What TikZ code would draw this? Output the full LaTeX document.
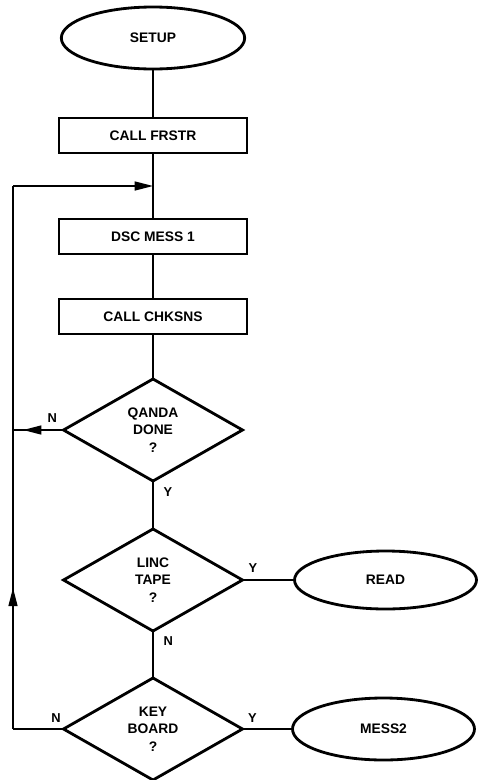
\documentclass[tikz,border=0pt]{standalone}
\usepackage{fontspec}
\setmainfont{Liberation Sans}
\usetikzlibrary{arrows.meta,positioning,calc,shapes.geometric,decorations.markings}

\begin{document}
\begin{tikzpicture}[
  font=\fontsize{11.8}{15}\selectfont\bfseries,
  terminal/.style={draw,ellipse,line width=2.4pt,outer sep=0pt,minimum width=5.5cm,minimum height=1.86cm,inner sep=0pt},
  process/.style={draw,line width=2.4pt,outer sep=0pt,minimum width=5.64cm,minimum height=1.05cm,inner sep=0pt},
  decision/.style={draw,diamond,aspect=1.75,line width=2.4pt,outer sep=0pt,minimum width=5.37cm,minimum height=3.06cm,inner sep=0pt,align=center},
  line/.style={line width=1.3pt},
  arrow/.style={line,-{Triangle[length=5.5mm,width=2.7mm]}},
  midarrow/.style={line,postaction={decorate},decoration={markings,mark=at position #1 with {\arrow{Triangle[length=5.5mm,width=2.7mm]}}}},
  lbl/.style={font=\fontsize{11}{12}\selectfont\bfseries}
]
\useasboundingbox (0,0) rectangle (14.49,-23.4);

% main column
\node[terminal] (setup) at (4.59,-1.14) {SETUP};
\node[process,below=1.47cm of setup] (frstr) {CALL FRSTR};
\node[process,below=1.98cm of frstr] (dsc) {DSC MESS 1};
\node[process,below=1.35cm of dsc] (chksns) {CALL CHKSNS};
\node[decision,below=1.35cm of chksns] (qanda) {QANDA\\DONE\\?};
\node[decision,below=1.44cm of qanda] (linc) {LINC\\TAPE\\?};
\node[decision,below=1.41cm of linc] (keyb) {KEY\\BOARD\\?};

% exits
\node[terminal,minimum width=5.46cm,minimum height=1.74cm,right=1.56cm of linc] (read) {READ};
\node[terminal,minimum width=5.46cm,right=1.5cm of keyb] (mess2) {MESS2};

% loop back rail
\coordinate (rail) at (0.39,0);
\coordinate (join) at ($(frstr.south)!0.5!(dsc.north)$);
\coordinate (kbl) at (keyb.west -| rail);
\coordinate (top) at (join -| rail);
\coordinate (qdl) at (qanda.west -| rail);

\draw[line] (setup) -- (frstr);
\draw[line] (frstr) -- (dsc);
\draw[line] (dsc) -- (chksns);
\draw[line] (chksns) -- (qanda);
\draw[line] (qanda) -- node[lbl,pos=0.22,right=5pt]{Y} (linc);
\draw[line] (linc) -- node[lbl,pos=0.2,above=2pt]{Y} (read);
\draw[line] (linc) -- node[lbl,pos=0.22,right=5pt]{N} (keyb);
\draw[line] (keyb) -- node[lbl,pos=0.2,above=2pt]{Y} (mess2);
\draw[line] (keyb.west) -- node[lbl,pos=0.15,above=2pt]{N} (kbl);
\draw[midarrow=0.26] (kbl) -- (top);
\draw[arrow] (top) -- (join);
\draw[midarrow=0.8] (qanda.west) -- node[lbl,pos=0.22,above=2pt]{N} (qdl);
\end{tikzpicture}
\end{document}
